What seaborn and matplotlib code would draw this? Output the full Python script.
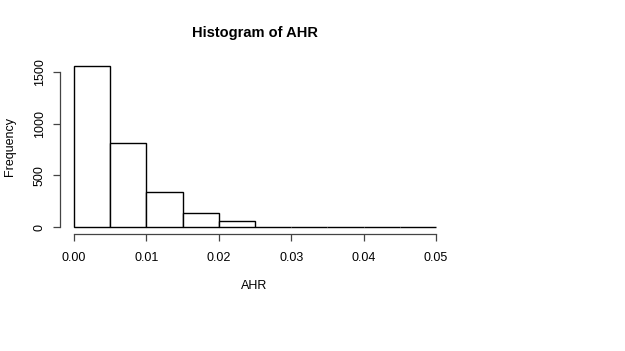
import matplotlib
matplotlib.use("Agg")
import matplotlib.pyplot as plt
import seaborn as sns
import numpy as np

# bin edges and counts
bin_edges = [0.000, 0.005, 0.010, 0.015, 0.020, 0.025, 0.030, 0.035, 0.040, 0.045, 0.050]
counts = [1558, 811, 343, 133, 55, 5, 4, 3, 1, 1]
x_ticks = [0.00, 0.01, 0.02, 0.03, 0.04, 0.05]
x_tick_labels = ["0.00", "0.01", "0.02", "0.03", "0.04", "0.05"]
y_ticks = [0, 500, 1000, 1500]

sns.set_style("white")
plt.rcParams['font.family'] = ['Liberation Sans', 'DejaVu Sans']
plt.rcParams['text.color'] = 'black'
plt.rcParams['axes.labelcolor'] = 'black'
plt.rcParams['xtick.labelcolor'] = 'black'
plt.rcParams['ytick.labelcolor'] = 'black'

fig = plt.figure(figsize=(6.25, 3.51), dpi=100)
ax = fig.add_axes([59.5 / 625, 1 - 233.5 / 351, 391 / 625, 174 / 351])

centers = [(a + b) / 2 for a, b in zip(bin_edges[:-1], bin_edges[1:])]
sns.histplot(x=centers, weights=counts, bins=bin_edges, color="white",
             edgecolor="black", linewidth=1.0, alpha=1, ax=ax)

ax.set_xlim(-0.002, 0.052)
ymax = max(counts)
ax.set_ylim(-0.04 * ymax, 1.04 * ymax)

for side in ["top", "right"]:
    ax.spines[side].set_visible(False)
ax.spines["left"].set_bounds(0, 1500)
ax.spines["bottom"].set_bounds(0, 0.05)
for side in ["left", "bottom"]:
    ax.spines[side].set_color("#444444")
    ax.spines[side].set_linewidth(0.9)

ax.set_xticks(x_ticks)
ax.set_xticklabels(x_tick_labels)
ax.set_yticks(y_ticks)
ax.set_yticklabels([str(t) for t in y_ticks], rotation=90, va="center")
ax.tick_params(axis="both", direction="out", length=5, width=0.9,
               color="#444444", labelsize=9, bottom=True, left=True)
ax.tick_params(axis="x", pad=8)
ax.tick_params(axis="y", pad=5)

ax.set_xlabel("AHR", fontsize=9)
ax.xaxis.set_label_coords((254 - 59.5) / 391, -(286 - 233.5) / 174)
ax.set_ylabel("Frequency", fontsize=9)
ax.yaxis.set_label_coords(-(59.5 - 10) / 391, (233.5 - 146) / 174)
ax.xaxis.label.set_va("center")
ax.yaxis.label.set_va("center")
ax.set_title("Histogram of AHR", fontsize=10.5, fontweight="bold", pad=16, color="black")

fig.savefig("out.png", dpi=100)
